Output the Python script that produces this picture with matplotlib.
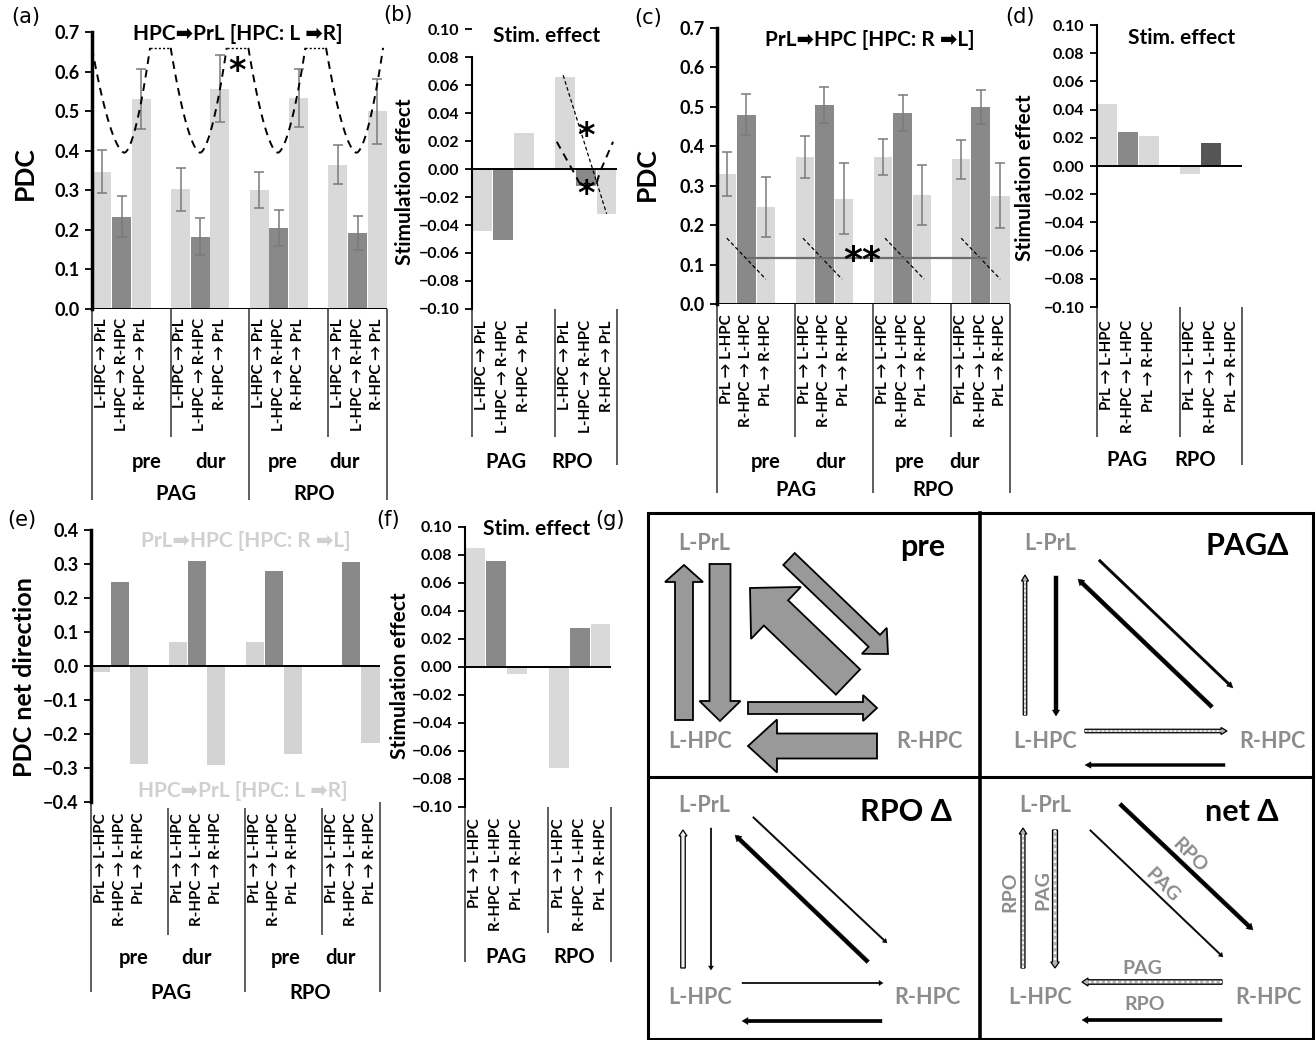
import numpy as np
import matplotlib
matplotlib.use('Agg')
import matplotlib.pyplot as plt
import matplotlib.transforms as mtransforms
from matplotlib.patches import FancyArrow, Rectangle

FONT = ['Lato', 'DejaVu Sans']
plt.rcParams['font.family'] = FONT
plt.rcParams['font.weight'] = 'bold'
plt.rcParams['axes.unicode_minus'] = True

W, H = 1316, 1040
fig = plt.figure(figsize=(W / 100, H / 100), dpi=100)
fig.patch.set_facecolor('white')

# ---------------- data ----------------
sub_groups = ['pre', 'dur', 'pre', 'dur']
regions = ['PAG', 'RPO']
hp_labels = ['L-HPC \u2192 PrL', 'L-HPC \u2192 R-HPC', 'R-HPC \u2192 PrL']
ph_labels = ['PrL \u2192 L-HPC', 'R-HPC \u2192 L-HPC', 'PrL \u2192 R-HPC']
title_hp = 'HPC\u27a1PrL [HPC: L \u27a1R]'
title_ph = 'PrL\u27a1HPC [HPC: R \u27a1L]'

a_vals = [[0.347, 0.233, 0.530], [0.302, 0.183, 0.557], [0.300, 0.205, 0.533], [0.365, 0.193, 0.500]]
a_err = [[0.055, 0.052, 0.076], [0.055, 0.047, 0.084], [0.046, 0.046, 0.074], [0.050, 0.043, 0.082]]
c_vals = [[0.330, 0.480, 0.245], [0.373, 0.505, 0.267], [0.373, 0.485, 0.277], [0.367, 0.500, 0.275]]
c_err = [[0.055, 0.052, 0.076], [0.054, 0.046, 0.090], [0.046, 0.045, 0.076], [0.050, 0.043, 0.082]]
b_vals = [[-0.044, -0.051, 0.026], [0.066, -0.012, -0.032]]
d_vals = [[0.044, 0.024, 0.021], [-0.006, 0.016, 0.0]]
e_vals = [[-0.018, 0.247, -0.287], [0.070, 0.310, -0.292], [0.072, 0.280, -0.258], [0.0, 0.305, -0.225]]
f_vals = [[0.085, 0.076, -0.005], [-0.072, 0.028, 0.031]]

LIGHT = '#d9d9d9'
DARK = '#898989'
DARKER = '#555555'
ERR = '#7a7a7a'
NODEGRAY = '#8c8c8c'
SEP = '#333333'

# overlay in pixel coordinates (for layout texts and diagram)
OV = fig.add_axes([0, 0, 1, 1])
OV.set_xlim(0, W)
OV.set_ylim(H, 0)
OV.axis('off')
OV.set_zorder(10)
OV.patch.set_visible(False)


def fmt_tick(v, nd):
    s = f'{abs(v):.{nd}f}'
    return ('\u2212' + s) if v < -1e-9 else s


def make_axes(l, r, t, b, ylim, ticks, nd, xmax, spine_w, lsize, bounds=None):
    ax = fig.add_axes([l / W, 1 - b / H, (r - l) / W, (b - t) / H])
    ax.patch.set_visible(False)
    ax.set_xlim(0, xmax)
    ax.set_ylim(*ylim)
    for s in ('top', 'right', 'bottom'):
        ax.spines[s].set_visible(False)
    ax.spines['left'].set_linewidth(spine_w)
    if bounds:
        ax.spines['left'].set_bounds(*bounds)
    ax.set_xticks([])
    ax.set_yticks(ticks)
    ax.set_yticklabels([fmt_tick(v, nd) for v in ticks])
    ax.tick_params(axis='y', direction='out', length=5, width=1.3, labelsize=lsize, pad=4)
    ax.axhline(0, color='black', lw=1.4, zorder=3)
    return ax


def bars(ax, vals, errs=None, colors=None):
    for g, row in enumerate(vals):
        xs = [g * 4 + b + 0.5 for b in range(len(row))]
        cols = colors[g] if colors else [LIGHT, DARK, LIGHT]
        kw = {}
        if errs is not None:
            kw = dict(yerr=errs[g], error_kw=dict(ecolor=ERR, elinewidth=1.1, capsize=3.5, capthick=1.1))
        ax.bar(xs, row, width=0.95, color=cols, zorder=2, **kw)


def cats(ax, ngroups, labels, top):
    tr = mtransforms.blended_transform_factory(ax.transData, OV.transData)
    for g in range(ngroups):
        for b, lab in enumerate(labels):
            ax.text(g * 4 + b + 0.5, top, lab, transform=tr, rotation=90, ha='center', va='top',
                    fontsize=10.8, clip_on=False)


def seps(ax, spec):
    tr = mtransforms.blended_transform_factory(ax.transData, OV.transData)
    for x, t, b in spec:
        ax.plot([x, x], [t, b], transform=tr, color=SEP, lw=1.1, clip_on=False, solid_capstyle='butt')


def otext(x, y, s, **kw):
    kw.setdefault('ha', 'center')
    kw.setdefault('va', 'center')
    OV.text(x, y, s, **kw)


def star(ax, x, y, s='*', size=24):
    ax.text(x, y, s, ha='center', va='center', fontsize=size, family='DejaVu Sans',
            fontweight='bold', clip_on=False, zorder=5)


TSIZE = 15     # chart titles
GSIZE = 14.5   # group labels
BIGT = 13      # big-panel tick labels
SMT = 11.5     # small-panel tick labels

# ---------------- panel (a) ----------------
axA = make_axes(92, 387, 32, 309, (0, 0.7), np.arange(0, 0.71, 0.1), 1, 15, 2.5, BIGT)
bars(axA, a_vals, a_err)
cats(axA, 4, hp_labels, 318)
seps(axA, [(0, 309, 500), (4, 309, 437), (8, 309, 500), (12, 309, 437), (15, 309, 500)])
# dashed significance curve
top_y, min_y = 0.66, 0.395
valleys = [(0.0, 1.65, 2.95), (4.0, 5.5, 6.85), (7.95, 9.45, 10.85), (11.9, 13.45, 14.8)]
for i, (xl, xm, xr) in enumerate(valleys):
    t = np.linspace(0, 1, 40)
    xs = np.concatenate([xl + (xm - xl) * t, xm + (xr - xm) * t[1:]])
    ys = np.concatenate([min_y + (top_y - min_y) * (1 - t) ** 1.7, min_y + (top_y - min_y) * t[1:] ** 1.7])
    axA.plot(xs, ys, color='black', lw=1.4, ls=(0, (4, 3)), clip_on=False, zorder=4)
    if i < len(valleys) - 1:
        axA.plot([xr, valleys[i + 1][0]], [top_y, top_y], color='black', lw=1.0, ls=(0, (1.5, 1.5)),
                 clip_on=False, zorder=4)
star(axA, 7.37, 0.60)
otext(238, 34, title_hp, fontsize=TSIZE)
otext(25, 173, 'PDC', fontsize=19, rotation=90)
for x, s in zip([147, 210, 283, 344], sub_groups):
    otext(x, 462, s, fontsize=GSIZE)
for x, s in zip([176, 314], regions):
    otext(x, 494, s, fontsize=GSIZE)
otext(26, 17, '(a)', fontsize=15, fontweight='normal', family='DejaVu Sans')

# ---------------- panel (b) ----------------
axB = make_axes(472, 617, 29, 309, (-0.1, 0.1), np.arange(-0.1, 0.101, 0.02), 2, 7, 1.5, SMT,
                bounds=(-0.1, 0.08))
bars(axB, b_vals)
cats(axB, 2, hp_labels, 320)
seps(axB, [(0, 309, 437), (4, 309, 437), (7, 309, 465)])
axB.plot([4.4, 6.5], [0.067, -0.032], color='black', lw=0.9, ls=(0, (3, 2)), zorder=4)
axB.plot([4.09, 4.9, 5.18], [0.0195, -0.002, -0.0098], color='black', lw=1.4, ls=(0, (4, 3)), zorder=4)
axB.plot([5.18, 6.02], [-0.0098, -0.0098], color='black', lw=1.0, ls=(0, (1.5, 1.5)), zorder=4)
axB.plot([6.02, 6.18, 6.81], [-0.0098, -0.002, 0.0195], color='black', lw=1.4, ls=(0, (4, 3)), zorder=4)
star(axB, 5.5, 0.023)
star(axB, 5.5, -0.018)
otext(547, 36, 'Stim. effect', fontsize=TSIZE)
otext(405, 182, 'Stimulation effect', fontsize=15, rotation=90)
for x, s in zip([506, 572], regions):
    otext(x, 462, s, fontsize=GSIZE)
otext(398, 15, '(b)', fontsize=15, fontweight='normal', family='DejaVu Sans')

# ---------------- panel (c) ----------------
axC = make_axes(717, 1010, 28, 304, (0, 0.7), np.arange(0, 0.71, 0.1), 1, 15, 2.5, BIGT)
bars(axC, c_vals, c_err)
cats(axC, 4, ph_labels, 314)
seps(axC, [(0, 304, 493), (4, 304, 437), (8, 304, 493), (12, 304, 437), (15, 304, 493)])
for g, off in enumerate([0.0, -0.1, 0.1, 0.0]):
    x0 = g * 4 + 0.5 + off
    axC.plot([x0, x0 + 2.0], [0.167, 0.063], color='black', lw=0.9, ls=(0, (3, 2)), zorder=4)
axC.plot([1.57, 13.76], [0.116, 0.116], color='#6e6e6e', lw=1.6, zorder=4)
star(axC, 7.45, 0.108, s='**', size=26)
otext(870, 40, title_ph, fontsize=TSIZE)
otext(647, 174, 'PDC', fontsize=19, rotation=90)
for x, s in zip([766, 831, 910, 964], sub_groups):
    otext(x, 462, s, fontsize=GSIZE)
for x, s in zip([796, 933], regions):
    otext(x, 490, s, fontsize=GSIZE)
otext(648, 18, '(c)', fontsize=15, fontweight='normal', family='DejaVu Sans')

# ---------------- panel (d) ----------------
axD = make_axes(1097, 1242, 25, 307, (-0.1, 0.1), np.arange(-0.1, 0.101, 0.02), 2, 7, 1.5, SMT)
bars(axD, d_vals, colors=[[LIGHT, DARK, LIGHT], [LIGHT, DARKER, LIGHT]])
cats(axD, 2, ph_labels, 320)
seps(axD, [(0, 307, 437), (4, 307, 437), (7, 307, 465)])
otext(1182, 38, 'Stim. effect', fontsize=TSIZE)
otext(1025, 178, 'Stimulation effect', fontsize=15, rotation=90)
for x, s in zip([1127, 1195], regions):
    otext(x, 460, s, fontsize=GSIZE)
otext(1020, 17, '(d)', fontsize=15, fontweight='normal', family='DejaVu Sans')

# ---------------- panel (e) ----------------
axE = make_axes(91, 380, 530, 802, (-0.4, 0.4), np.arange(-0.4, 0.41, 0.1), 1, 15, 2.5, BIGT)
bars(axE, e_vals, colors=[['#d3d3d3', DARK, '#d3d3d3']] * 4)
cats(axE, 4, ph_labels, 813)
seps(axE, [(0, 802, 992), (4, 808, 935), (8, 808, 992), (12, 808, 935), (15, 802, 992)])
otext(246, 541, title_ph, fontsize=TSIZE, color='#d0d0d0')
otext(243, 791, title_hp, fontsize=TSIZE, color='#d0d0d0')
otext(25, 677, 'PDC net direction', fontsize=18, rotation=90)
for x, s in zip([134, 196, 286, 341], sub_groups):
    otext(x, 958, s, fontsize=GSIZE)
for x, s in zip([171, 310], regions):
    otext(x, 993, s, fontsize=GSIZE)
otext(22, 520, '(e)', fontsize=15, fontweight='normal', family='DejaVu Sans')

# ---------------- panel (f) ----------------
axF = make_axes(465, 611, 527, 807, (-0.1, 0.1), np.arange(-0.1, 0.101, 0.02), 2, 7, 1.5, SMT)
bars(axF, f_vals)
cats(axF, 2, ph_labels, 818)
seps(axF, [(0, 807, 962), (4, 807, 933), (7, 807, 962)])
otext(537, 529, 'Stim. effect', fontsize=TSIZE)
otext(400, 676, 'Stimulation effect', fontsize=15, rotation=90)
for x, s in zip([506, 574], regions):
    otext(x, 957, s, fontsize=GSIZE)
otext(388, 520, '(f)', fontsize=15, fontweight='normal', family='DejaVu Sans')
otext(610, 520, '(g)', fontsize=15, fontweight='normal', family='DejaVu Sans')

# ---------------- panel (g): connectivity diagrams ----------------
OV.add_patch(Rectangle((648, 513), 665, 526, fill=False, lw=2.2, ec='black'))
OV.plot([980, 980], [513, 1039], color='black', lw=2.6)
OV.plot([648, 1313], [777, 777], color='black', lw=2.2)

node_names = ['L-PrL', 'L-HPC', 'R-HPC']
quad_titles = ['pre', 'PAG\u0394', 'RPO \u0394', 'net \u0394']
node_pos = [
    [(704, 543), (700, 742), (929, 742)],
    [(1050, 543), (1045, 742), (1272, 742)],
    [(704, 806), (700, 997), (927, 997)],
    [(1045, 806), (1040, 997), (1268, 997)],
]
title_pos = [(923, 547), (1247, 546), (906, 812), (1242, 812)]
for q in range(4):
    for name, (x, y) in zip(node_names, node_pos[q]):
        otext(x, y, name, fontsize=15.5, color=NODEGRAY)
    otext(*title_pos[q], quad_titles[q], fontsize=22, color='black')

# pre: block arrows (tail x, tail y, tip x, tip y, shaft width, head width, head length)
pre_arrows = [
    (684, 720, 684, 565, 18, 38, 17),
    (720, 564, 720, 721, 21, 41, 20),
    (789, 559, 888, 654, 16.5, 36, 19),
    (848, 682, 750, 588, 35, 72, 36),
    (748, 708, 877, 708, 12, 26, 14),
    (877, 746, 748, 746, 25, 53, 29),
]
for x0, y0, x1, y1, w, hw, hl in pre_arrows:
    OV.add_patch(FancyArrow(x0, y0, x1 - x0, y1 - y0, width=w, head_width=hw, head_length=hl,
                            length_includes_head=True, fc='#999999', ec='black', lw=1.3))

# delta diagrams: (tail x, tail y, tip x, tip y, width, style)
delta_arrows = [
    # PAG delta
    (1025, 715, 1025, 575, 3.5, 'dot'), (1056, 576, 1056, 716, 4.0, 'solid'),
    (1099, 560, 1233, 688, 2.5, 'solid'), (1212, 707, 1078, 579, 4.0, 'solid'),
    (1085, 731, 1227, 731, 3.5, 'dot'), (1225, 765, 1085, 765, 3.0, 'solid'),
    # RPO delta
    (683, 968, 683, 830, 4.5, 'hollow'), (711, 828, 711, 970, 1.5, 'solid'),
    (753, 817, 887, 943, 1.5, 'solid'), (868, 962, 735, 835, 4.0, 'solid'),
    (742, 983, 883, 983, 1.5, 'solid'), (882, 1021, 742, 1021, 3.5, 'solid'),
    # net delta
    (1023, 968, 1023, 828, 4.0, 'dot'), (1055, 830, 1055, 968, 5.0, 'dot'),
    (1120, 804, 1253, 930, 4.0, 'solid'), (1090, 830, 1223, 957, 1.5, 'solid'),
    (1222, 982, 1082, 982, 4.5, 'dot'), (1222, 1020, 1082, 1020, 3.5, 'solid'),
]
for x0, y0, x1, y1, w, st in delta_arrows:
    hw = max(w + 3.5, 4.5)
    hl = 6 if w > 2 else 4
    if st == 'solid':
        fc, ec, lw = 'black', 'black', 0.3
    elif st == 'dot':
        fc, ec, lw = '#b5b5b5', 'black', 0.9
    else:
        fc, ec, lw = '#f0f0f0', 'black', 0.9
    OV.add_patch(FancyArrow(x0, y0, x1 - x0, y1 - y0, width=w, head_width=hw, head_length=hl,
                            length_includes_head=True, fc=fc, ec=ec, lw=lw))
    if st == 'dot':
        OV.plot([x0, x0 + (x1 - x0) * 0.95], [y0, y0 + (y1 - y0) * 0.95], color='white',
                lw=max(w * 0.35, 0.8), ls=(0, (1, 1.5)))

net_labels = [
    (1010, 892, 'RPO', 90), (1043, 890, 'PAG', 90),
    (1190, 855, 'RPO', -45), (1162, 885, 'PAG', -45),
    (1142, 968, 'PAG', 0), (1145, 1005, 'RPO', 0),
]
for x, y, s, rot in net_labels:
    otext(x, y, s, fontsize=14, color=NODEGRAY, rotation=rot)

fig.savefig('out.png', dpi=100, facecolor='white')
